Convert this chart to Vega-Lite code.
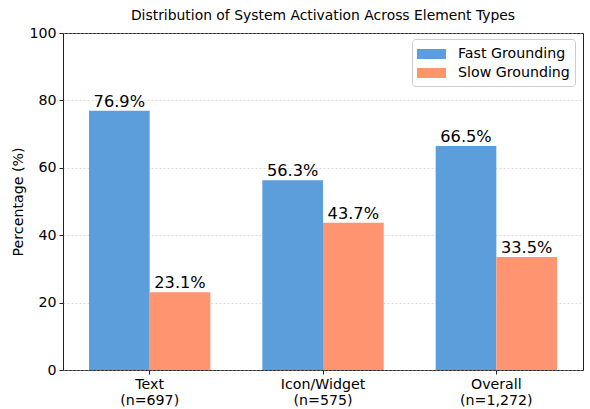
{
  "$schema": "https://vega.github.io/schema/vega-lite/v6.json",
  "width": 520,
  "height": 337,
  "autosize": "none",
  "padding": {"left": 63, "top": 33, "right": 7, "bottom": 39},
  "title": {"text": "Distribution of System Activation Across Element Types", "fontSize": 13.9, "font": "DejaVu Sans", "fontWeight": "normal", "anchor": "middle", "offset": 3, "color": "black"},
  "config": {
    "font": "DejaVu Sans",
    "view": {"stroke": "#222", "strokeWidth": 1},
    "axis": {"domain": false, "labelColor": "black", "labelFontSize": 14.2, "tickColor": "#222", "tickSize": 4, "labelPadding": 3, "titleColor": "black", "titleFontWeight": "normal", "titleFontSize": 14.2}
  },
  "data": {
    "values": [
      {"category": "Text (n=697)", "series": "Fast Grounding", "pct": 76.9},
      {"category": "Text (n=697)", "series": "Slow Grounding", "pct": 23.1},
      {"category": "Icon/Widget (n=575)", "series": "Fast Grounding", "pct": 56.3},
      {"category": "Icon/Widget (n=575)", "series": "Slow Grounding", "pct": 43.7},
      {"category": "Overall (n=1,272)", "series": "Fast Grounding", "pct": 66.5},
      {"category": "Overall (n=1,272)", "series": "Slow Grounding", "pct": 33.5}
    ]
  },
  "transform": [{"calculate": "format(datum.pct, '.1f') + '%'", "as": "label"}],
  "encoding": {
    "x": {
      "field": "category", "type": "nominal", "sort": null,
      "scale": {"paddingInner": 0.3, "paddingOuter": 0.15},
      "axis": {"title": null, "labelAngle": 0, "labelLineHeight": 16, "labelBaseline": "top", "labelExpr": "[slice(datum.label, 0, indexof(datum.label, ' (')), slice(datum.label, indexof(datum.label, ' (') + 1)]"}
    },
    "xOffset": {"field": "series", "type": "nominal", "sort": ["Fast Grounding", "Slow Grounding"], "scale": {"paddingInner": 0, "paddingOuter": 0}},
    "y": {
      "field": "pct", "type": "quantitative",
      "scale": {"domain": [0, 100], "nice": false},
      "axis": {"title": "Percentage (%)", "values": [0, 20, 40, 60, 80, 100], "grid": true, "gridColor": "#b0b0b0", "gridDash": [2, 2], "gridWidth": 0.6, "gridOpacity": 0.8, "titlePadding": 3}
    }
  },
  "layer": [
    {
      "mark": {"type": "bar"},
      "encoding": {
        "color": {
          "field": "series", "type": "nominal",
          "scale": {"domain": ["Fast Grounding", "Slow Grounding"], "range": ["#5c9ddc", "#ff9570"]},
          "legend": {
            "title": null, "orient": "none", "legendX": 349, "legendY": 6,
            "fillColor": "white", "strokeColor": "#cccccc", "cornerRadius": 3, "padding": 5,
            "labelFontSize": 14.2, "labelColor": "black", "labelOffset": 21, "rowPadding": 1,
            "symbolType": "M-1,-0.5H1.9V0.5H-1Z", "symbolSize": 400, "symbolOpacity": 1, "symbolStrokeWidth": 0
          }
        }
      }
    },
    {
      "mark": {"type": "text", "baseline": "alphabetic", "dy": -4, "fontSize": 16.2, "color": "black"},
      "encoding": {"text": {"field": "label", "type": "nominal"}}
    }
  ]
}
